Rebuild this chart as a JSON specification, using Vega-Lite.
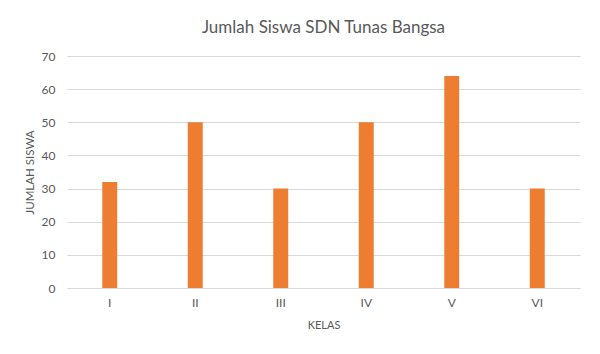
{
  "$schema": "https://vega.github.io/schema/vega-lite/v6.json",
  "autosize": "none",
  "width": 513,
  "height": 232,
  "padding": {"left": 67, "top": 56, "right": 20, "bottom": 66},
  "background": "white",
  "title": {
    "text": "Jumlah Siswa SDN Tunas Bangsa",
    "font": "Lato",
    "fontSize": 17,
    "fontWeight": "normal",
    "color": "#595959",
    "anchor": "middle",
    "offset": 13
  },
  "data": {
    "values": [
      {"kelas": "I", "siswa": 32},
      {"kelas": "II", "siswa": 50},
      {"kelas": "III", "siswa": 30},
      {"kelas": "IV", "siswa": 50},
      {"kelas": "V", "siswa": 64},
      {"kelas": "VI", "siswa": 30}
    ]
  },
  "mark": {"type": "bar", "color": "#ED7D31", "width": {"band": 0.175}},
  "encoding": {
    "x": {
      "field": "kelas",
      "type": "nominal",
      "sort": null,
      "scale": {"paddingInner": 0, "paddingOuter": 0},
      "axis": {
        "title": "KELAS",
        "labelAngle": 0,
        "ticks": false,
        "domainColor": "#d9d9d9",
        "labelPadding": 9,
        "titlePadding": 11,
        "grid": false
      }
    },
    "y": {
      "field": "siswa",
      "type": "quantitative",
      "scale": {"domain": [0, 70]},
      "axis": {
        "title": "JUMLAH SISWA",
        "titleFontSize": 11.5,
        "values": [0, 10, 20, 30, 40, 50, 60, 70],
        "ticks": false,
        "domain": false,
        "gridColor": "#d9d9d9",
        "labelPadding": 12,
        "titlePadding": 6
      }
    }
  },
  "config": {
    "view": {"stroke": null},
    "axis": {
      "labelFont": "Lato",
      "labelFontSize": 12,
      "labelColor": "#595959",
      "titleFont": "Lato",
      "titleFontSize": 11,
      "titleFontWeight": "normal",
      "titleColor": "#595959"
    }
  }
}
